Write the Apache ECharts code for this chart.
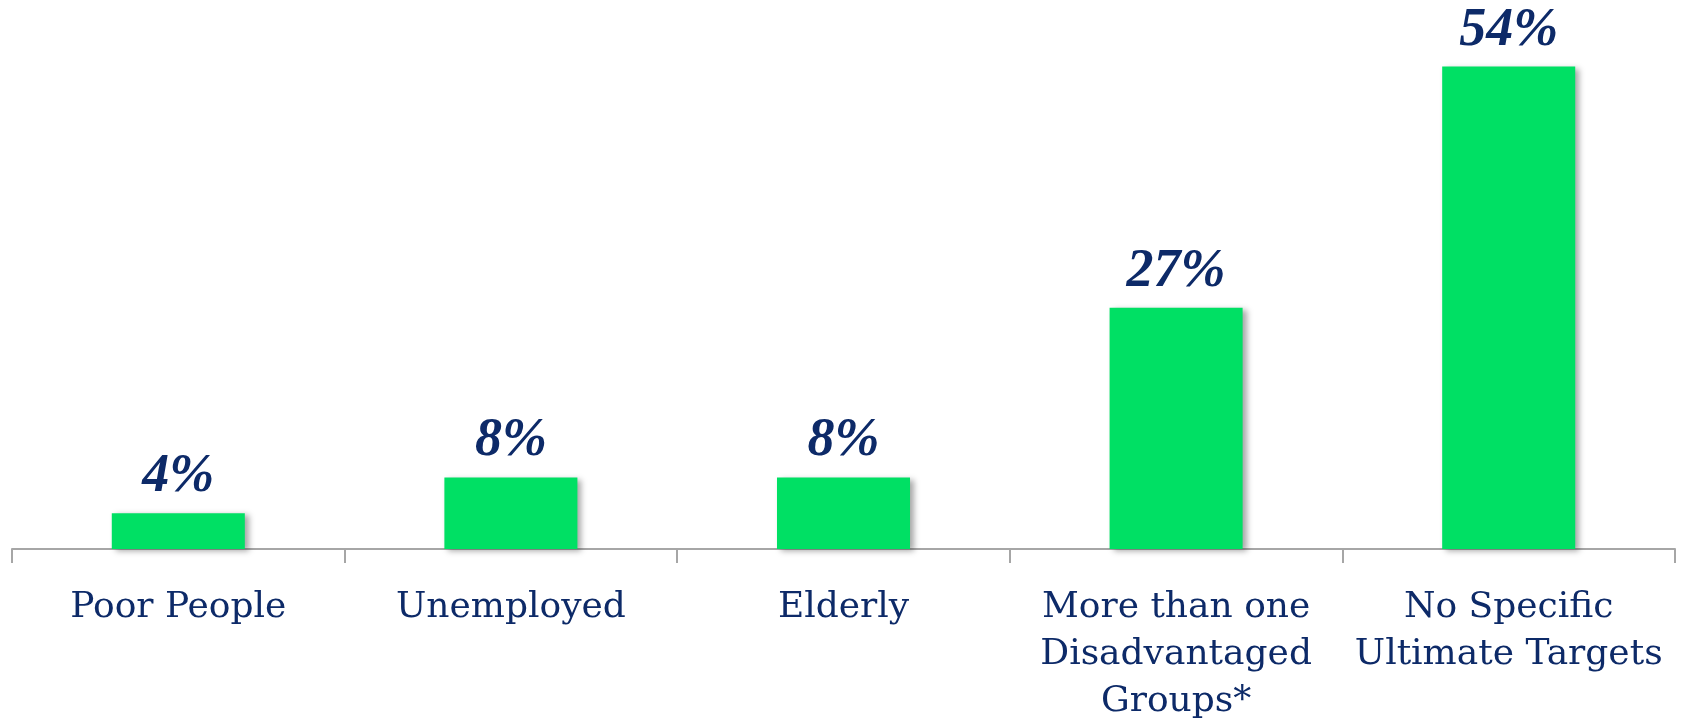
<!DOCTYPE html>
<html>
<head>
<meta charset="utf-8">
<script src="https://cdn.jsdelivr.net/npm/echarts@6/dist/echarts.min.js"></script>
<style>
html,body{margin:0;padding:0;background:#fff;}
#chart{width:1681px;height:719px;}
</style>
</head>
<body>
<div id="chart"></div>
<script>
const categories = ['Poor People', 'Unemployed', 'Elderly', 'More than one\nDisadvantaged\nGroups*', 'No Specific\nUltimate Targets'];
const values = [4, 8, 8, 27, 54];

const navy = '#0d2a68';
const chart = echarts.init(document.getElementById('chart'));
chart.setOption({
  animation: false,
  grid: {left: 12, right: 6, top: 13, bottom: 170, containLabel: false, outerBoundsMode: 'none'},
  xAxis: {
    type: 'category',
    data: categories,
    axisLine: {lineStyle: {color: '#a6a6a6', width: 2}},
    axisTick: {show: true, length: 14, lineStyle: {color: '#a6a6a6', width: 2}},
    axisLabel: {
      color: navy,
      fontFamily: 'DejaVu Serif',
      fontSize: 36,
      lineHeight: 47,
      margin: 35,
      interval: 0
    }
  },
  yAxis: {
    type: 'value',
    min: 0,
    max: 60,
    show: false,
    splitLine: {show: false}
  },
  series: [{
    type: 'bar',
    data: values,
    barCategoryGap: '60%',
    itemStyle: {
      color: '#00e064',
      shadowColor: 'rgba(0,0,0,0.35)',
      shadowBlur: 6,
      shadowOffsetX: 4,
      shadowOffsetY: 2
    },
    label: {
      show: true,
      position: 'top',
      distance: 9,
      formatter: '{c}%',
      color: navy,
      fontFamily: 'Liberation Serif',
      fontStyle: 'italic',
      fontWeight: 'bold',
      fontSize: 54
    }
  }]
});
</script>
</body>
</html>
